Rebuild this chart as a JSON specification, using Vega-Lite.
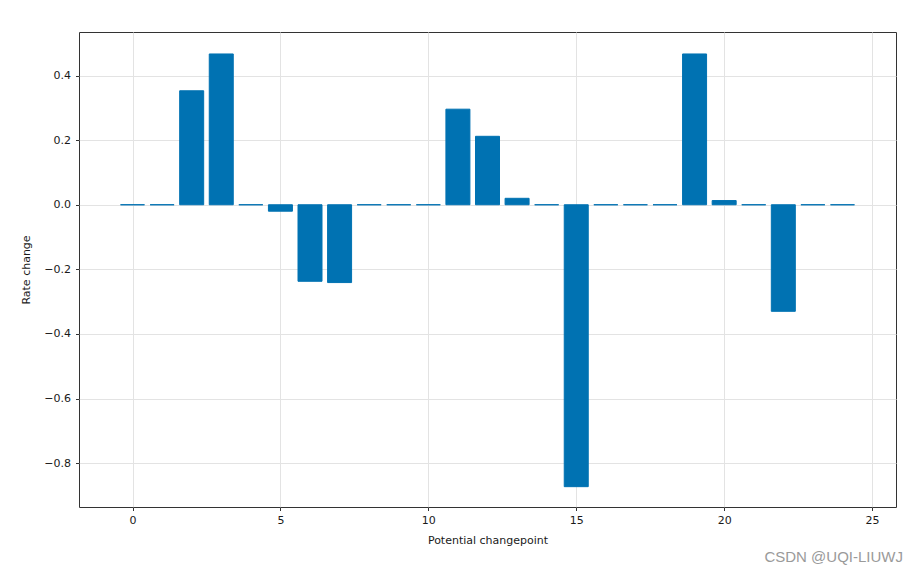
{
  "$schema": "https://vega.github.io/schema/vega-lite/v6.json",
  "width": 817,
  "height": 475,
  "autosize": {"type": "none"},
  "padding": {"left": 79, "top": 32, "right": 22, "bottom": 72},
  "background": "white",
  "title": {
    "text": "CSDN @UQI-LIUWJ",
    "orient": "bottom",
    "anchor": "end",
    "frame": "group",
    "font": "Liberation Sans",
    "fontSize": 15,
    "fontWeight": "normal",
    "color": "#9a9a9a",
    "offset": 4,
    "dx": 7
  },
  "data": {
    "values": [
      {"cp": 0, "rate": 0.0},
      {"cp": 1, "rate": 0.0},
      {"cp": 2, "rate": 0.353},
      {"cp": 3, "rate": 0.467},
      {"cp": 4, "rate": 0.0},
      {"cp": 5, "rate": -0.02},
      {"cp": 6, "rate": -0.237},
      {"cp": 7, "rate": -0.241},
      {"cp": 8, "rate": 0.0},
      {"cp": 9, "rate": 0.0},
      {"cp": 10, "rate": 0.0},
      {"cp": 11, "rate": 0.296},
      {"cp": 12, "rate": 0.212},
      {"cp": 13, "rate": 0.02},
      {"cp": 14, "rate": 0.0},
      {"cp": 15, "rate": -0.873},
      {"cp": 16, "rate": 0.0},
      {"cp": 17, "rate": 0.0},
      {"cp": 18, "rate": 0.0},
      {"cp": 19, "rate": 0.467},
      {"cp": 20, "rate": 0.013},
      {"cp": 21, "rate": 0.0},
      {"cp": 22, "rate": -0.33},
      {"cp": 23, "rate": 0.0},
      {"cp": 24, "rate": 0.0}
    ]
  },
  "mark": {"type": "bar", "size": 24, "color": "#0072B2", "stroke": "#0072B2", "strokeWidth": 1},
  "encoding": {
    "x": {
      "field": "cp",
      "type": "quantitative",
      "scale": {"domain": [-1.64, 25.64], "nice": false, "zero": false},
      "axis": {
        "title": "Potential changepoint",
        "values": [0, 5, 10, 15, 20, 25],
        "format": "d"
      }
    },
    "y": {
      "field": "rate",
      "type": "quantitative",
      "scale": {"domain": [-0.936, 0.535], "nice": false},
      "axis": {
        "title": "Rate change",
        "values": [-0.8, -0.6, -0.4, -0.2, 0.0, 0.2, 0.4],
        "format": ".1f"
      }
    }
  },
  "config": {
    "font": "DejaVu Sans",
    "view": {"stroke": "#333333", "strokeWidth": 1},
    "axis": {
      "grid": true,
      "gridColor": "#e3e3e3",
      "gridWidth": 1,
      "domain": false,
      "tickColor": "#333333",
      "tickSize": 3.5,
      "labelFont": "DejaVu Sans",
      "labelFontSize": 11,
      "labelColor": "#1a1a1a",
      "titleFont": "DejaVu Sans",
      "titleFontSize": 11,
      "titleFontWeight": "normal",
      "titleColor": "#1a1a1a"
    },
    "axisX": {"labelPadding": 4, "titlePadding": 9},
    "axisY": {"labelPadding": 5, "titlePadding": 12}
  }
}
